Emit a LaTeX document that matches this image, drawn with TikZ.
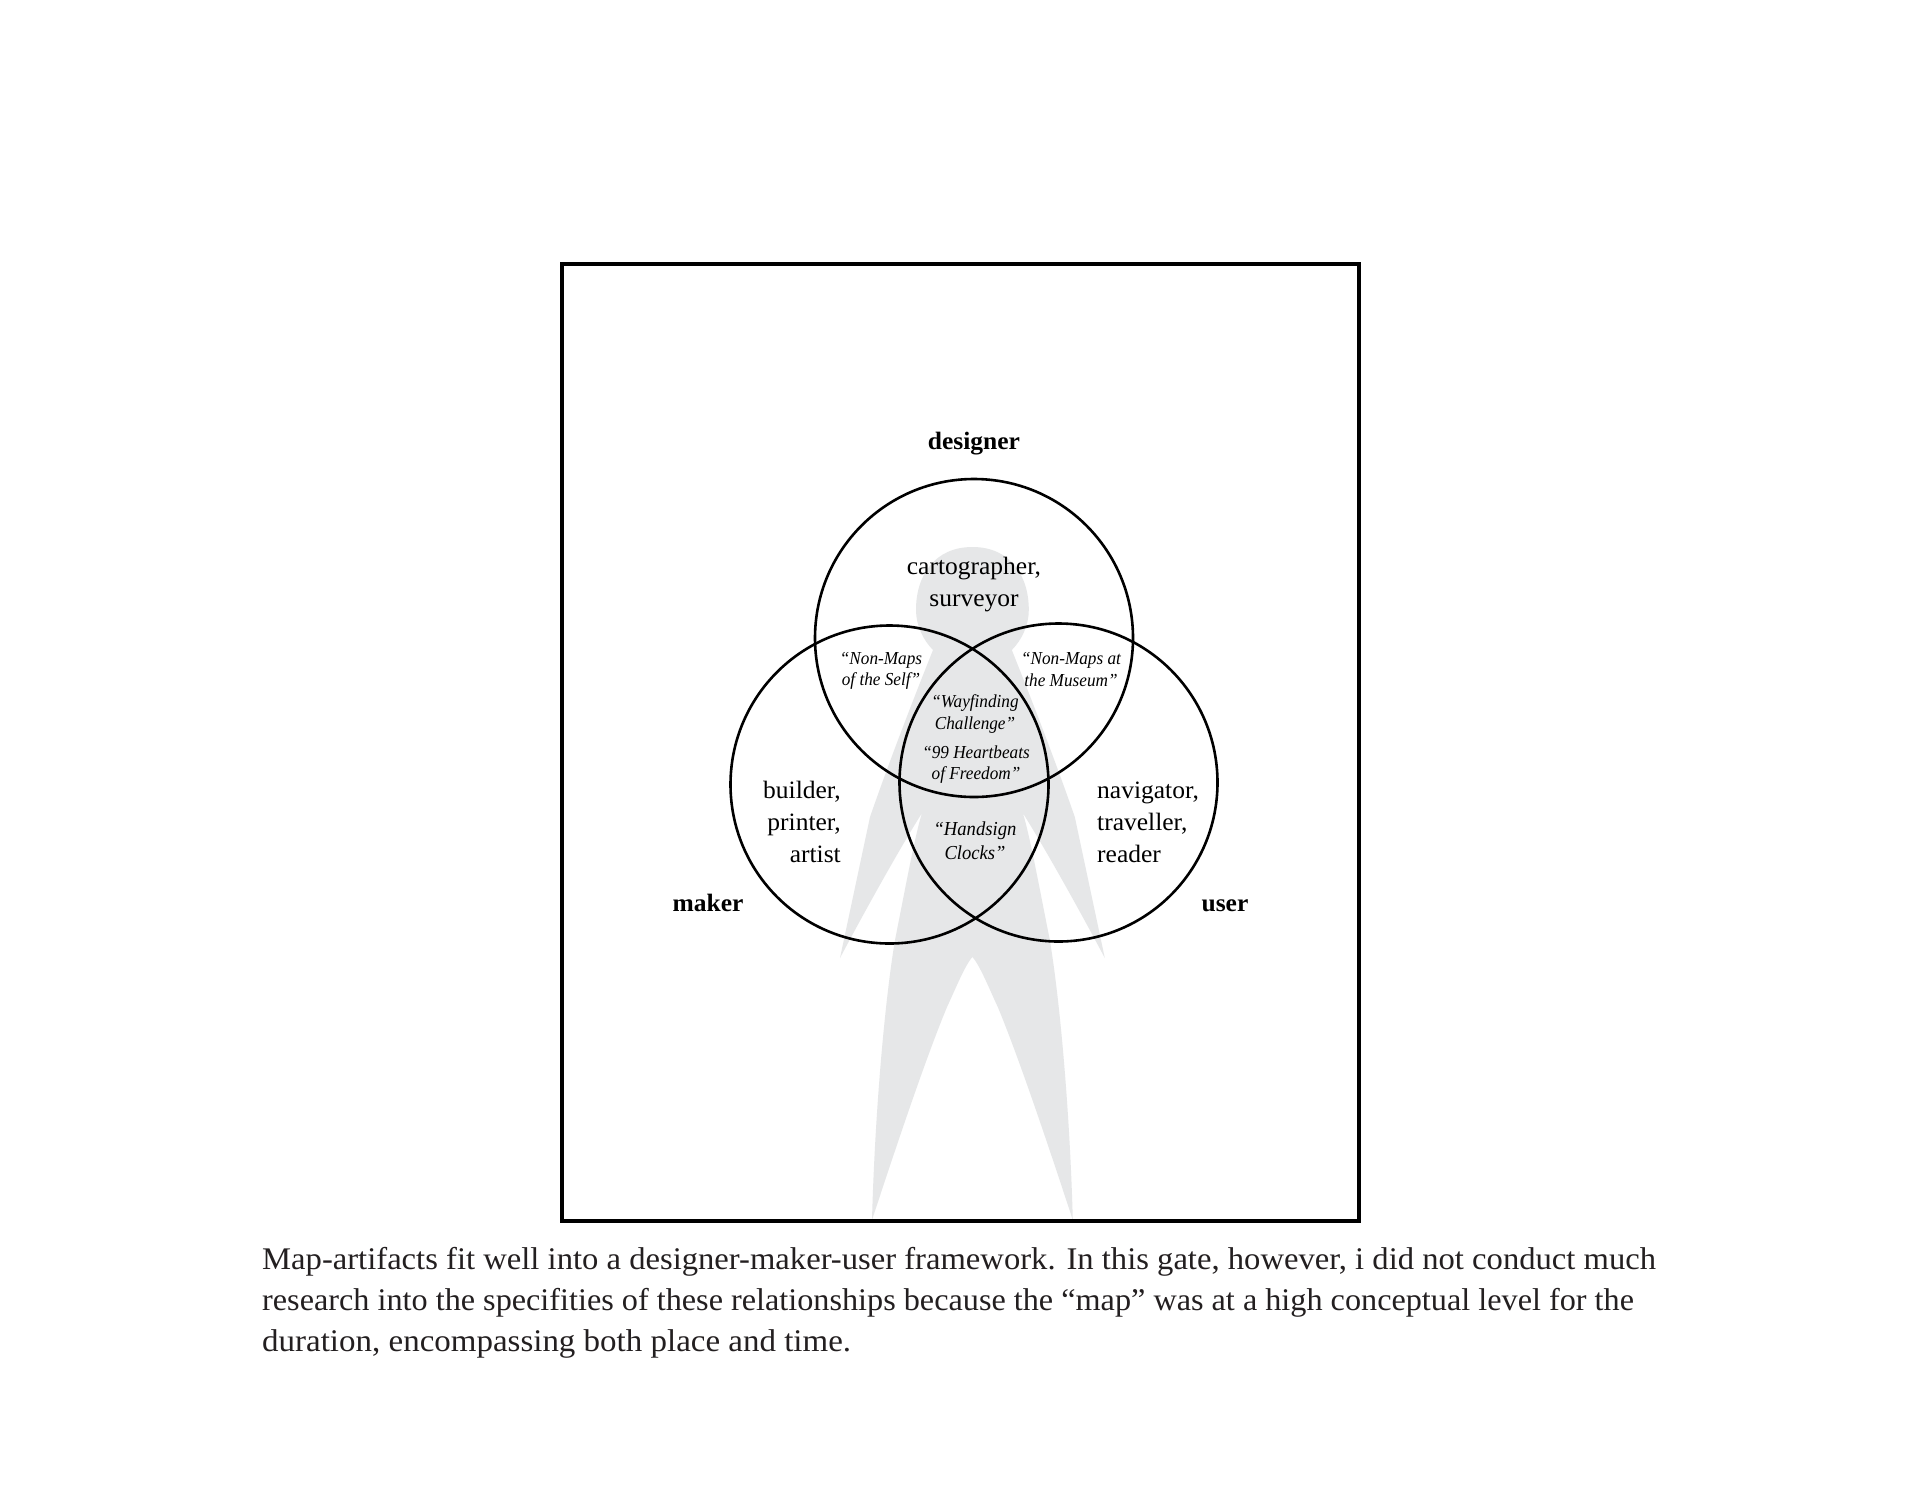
\documentclass[tikz,border=0pt]{standalone}
\usepackage{fontspec}
\setmainfont{Liberation Serif}[FakeStretch=1.02,Ligatures=TeX]
\newfontfamily\workfont{Liberation Serif}[FakeStretch=0.94,Ligatures=TeX]
\newfontfamily\capfont{Liberation Serif}[FakeStretch=1.036,Ligatures=TeX]
\newfontfamily\capfontb{Liberation Serif}[FakeStretch=1.023,Ligatures=TeX]
\newfontfamily\capfontc{Liberation Serif}[FakeStretch=1.047,Ligatures=TeX]
\definecolor{figgray}{HTML}{E6E7E8}
\definecolor{ink}{HTML}{231F20}
\tikzset{
  ring/.style={circle,draw=black,line width=2.6pt,minimum size=318pt,inner sep=0pt},
  role/.style={font=\fontsize{25}{32}\selectfont,text=black,inner sep=0pt},
  head/.style={font=\fontsize{25}{32}\selectfont\bfseries,text=black,inner sep=0pt},
  work/.style={font=\workfont\fontsize{18.3}{21.5}\selectfont\itshape,text=black,inner sep=0pt,align=center},
  caption/.style={font=\capfont\fontsize{31.5}{41}\selectfont,text=ink,inner sep=0pt,anchor=base west}
}
\begin{document}
\begin{tikzpicture}[x=1pt,y=-1pt]
\useasboundingbox (0,0) rectangle (1920,1484);
\fill[white] (0,0) rectangle (1920,1484);
\fill[figgray] (972.4,547)
  .. controls (935,547) and (916,575) .. (916,610)
  .. controls (916,625) and (923,640) .. (933,650)
  .. controls (925,670) and (895,745) .. (870,817)
  -- (840,958)
  .. controls (868,905) and (903,843) .. (922,813)
  .. controls (915,835) and (905,890) .. (895,940)
  .. controls (885,1000) and (875,1110) .. (872,1220)
  .. controls (895,1150) and (925,1060) .. (947,1007)
  .. controls (955,990) and (965,965) .. (972.4,957)
  .. controls (979.8,965) and (989.8,990) .. (997.8,1007)
  .. controls (1019.8,1060) and (1049.8,1150) .. (1072.8,1220)
  .. controls (1069.8,1110) and (1059.8,1000) .. (1049.8,940)
  .. controls (1039.8,890) and (1029.8,835) .. (1022.8,813)
  .. controls (1041.8,843) and (1076.8,905) .. (1104.8,958)
  -- (1074.8,817)
  .. controls (1049.8,745) and (1019.8,670) .. (1011.8,650)
  .. controls (1021.8,640) and (1028.8,625) .. (1028.8,610)
  .. controls (1028.8,575) and (1009.8,547) .. (972.4,547) -- cycle;
\draw[black,line width=4pt] (561.5,263.5) rectangle (1359,1221);
\node[ring] (cdesigner) at (974,638) {};
\node[ring] (cmaker) at (889.5,784.5) {};
\node[ring] (cuser) at (1058.5,782.5) {};
\node[head] (designer) at (974,443.5) {designer};
\node[head] (maker) at (708,903) {maker};
\node[head] (user) at (1225,905.5) {user};
\node[role,align=center] (cart) at (974,584.5) {cartographer,\\surveyor};
\node[role,align=right,anchor=east] (builder) at (841,822) {builder,\\printer,\\artist};
\node[role,align=left,anchor=west] (nav) at (1097,822) {navigator,\\traveller,\\reader};
\node[work] (self) at (881,671) {“Non-Maps\\of the Self”};
\node[work] (museum) at (1071,669.5) {“Non-Maps at\\the Museum”};
\node[work] (way) at (975,714) {“Wayfinding\\Challenge”};
\node[work] (heart) at (976,764.5) {“99 Heartbeats\\of Freedom”};
\node[work,font=\workfont\fontsize{19.8}{24}\selectfont\itshape] (hand) at (975,841) {“Handsign\\Clocks”};
\node[caption] (l1) at (262,1269) {Map-artifacts fit well into a designer-maker-user framework. In this gate, however, i did not conduct much};
\node[caption,font=\capfontb\fontsize{31.5}{41}\selectfont] (l2) at (262,1310) {research into the specifities of these relationships because the “map” was at a high conceptual level for the};
\node[caption,font=\capfontc\fontsize{31.5}{41}\selectfont] (l3) at (262,1351) {duration, encompassing both place and time.};
\end{tikzpicture}
\end{document}
